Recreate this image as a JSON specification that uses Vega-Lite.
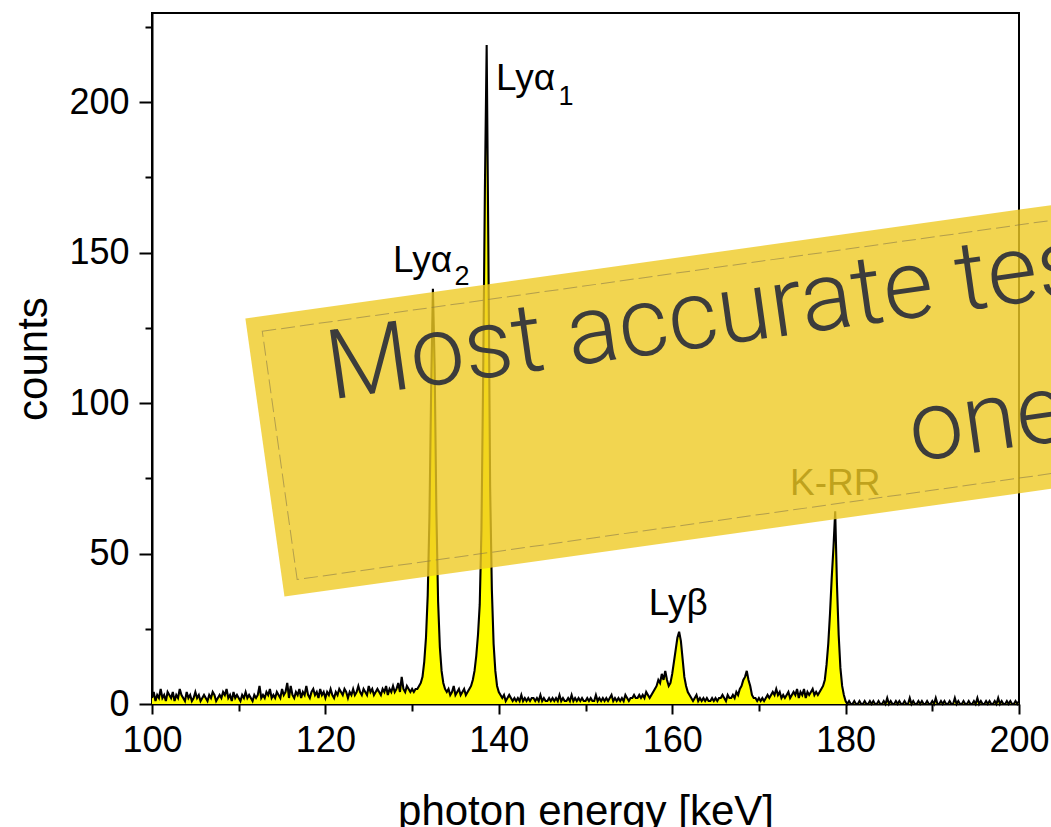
{
  "$schema": "https://vega.github.io/schema/vega-lite/v6.json",
  "autosize": "none",
  "width": 867,
  "height": 691,
  "padding": {"left": 152, "top": 13, "right": 32, "bottom": 123},
  "background": "white",
  "config": {
    "view": {"stroke": "black", "strokeWidth": 2},
    "font": "Liberation Sans Narrow, Arial Narrow, Liberation Sans, sans-serif"
  },
  "datasets": {
    "spectrum": [
      {"e":100,"c":2},{"e":100.2,"c":4},{"e":100.4,"c":1},{"e":100.6,"c":3},{"e":100.8,"c":2},{"e":101,"c":5},{"e":101.2,"c":2},{"e":101.4,"c":3},{"e":101.6,"c":1},{"e":101.8,"c":4},
      {"e":102,"c":3},{"e":102.2,"c":2},{"e":102.4,"c":4},{"e":102.6,"c":1},{"e":102.8,"c":3},{"e":103,"c":2},{"e":103.2,"c":5},{"e":103.4,"c":3},{"e":103.6,"c":2},{"e":103.8,"c":1},
      {"e":104,"c":4},{"e":104.2,"c":2},{"e":104.4,"c":3},{"e":104.6,"c":1},{"e":104.8,"c":2},{"e":105,"c":4},{"e":105.2,"c":2},{"e":105.4,"c":3},{"e":105.6,"c":1},{"e":105.8,"c":2},
      {"e":106,"c":3},{"e":106.2,"c":2},{"e":106.4,"c":1},{"e":106.6,"c":3},{"e":106.8,"c":2},{"e":107,"c":4},{"e":107.2,"c":3},{"e":107.4,"c":1},{"e":107.6,"c":2},{"e":107.8,"c":3},
      {"e":108,"c":2},{"e":108.2,"c":4},{"e":108.4,"c":3},{"e":108.6,"c":5},{"e":108.8,"c":2},{"e":109,"c":3},{"e":109.2,"c":1},{"e":109.4,"c":4},{"e":109.6,"c":2},{"e":109.8,"c":3},
      {"e":110,"c":2},{"e":110.2,"c":1},{"e":110.4,"c":3},{"e":110.6,"c":2},{"e":110.8,"c":4},{"e":111,"c":2},{"e":111.2,"c":3},{"e":111.4,"c":2},{"e":111.6,"c":1},{"e":111.8,"c":3},
      {"e":112,"c":2},{"e":112.2,"c":3},{"e":112.4,"c":6},{"e":112.6,"c":2},{"e":112.8,"c":3},{"e":113,"c":2},{"e":113.2,"c":4},{"e":113.4,"c":3},{"e":113.6,"c":5},{"e":113.8,"c":2},
      {"e":114,"c":3},{"e":114.2,"c":2},{"e":114.4,"c":4},{"e":114.6,"c":3},{"e":114.8,"c":2},{"e":115,"c":5},{"e":115.2,"c":3},{"e":115.4,"c":4},{"e":115.6,"c":7},{"e":115.8,"c":2},
      {"e":116,"c":6},{"e":116.2,"c":3},{"e":116.4,"c":2},{"e":116.6,"c":4},{"e":116.8,"c":3},{"e":117,"c":5},{"e":117.2,"c":2},{"e":117.4,"c":4},{"e":117.6,"c":3},{"e":117.8,"c":6},
      {"e":118,"c":3},{"e":118.2,"c":2},{"e":118.4,"c":4},{"e":118.6,"c":5},{"e":118.8,"c":3},{"e":119,"c":4},{"e":119.2,"c":2},{"e":119.4,"c":5},{"e":119.6,"c":3},{"e":119.8,"c":4},
      {"e":120,"c":2},{"e":120.2,"c":4},{"e":120.4,"c":3},{"e":120.6,"c":5},{"e":120.8,"c":3},{"e":121,"c":2},{"e":121.2,"c":4},{"e":121.4,"c":3},{"e":121.6,"c":5},{"e":121.8,"c":4},
      {"e":122,"c":3},{"e":122.2,"c":5},{"e":122.4,"c":4},{"e":122.6,"c":2},{"e":122.8,"c":4},{"e":123,"c":3},{"e":123.2,"c":5},{"e":123.4,"c":3},{"e":123.6,"c":4},{"e":123.8,"c":6},
      {"e":124,"c":4},{"e":124.2,"c":3},{"e":124.4,"c":5},{"e":124.6,"c":4},{"e":124.8,"c":3},{"e":125,"c":6},{"e":125.2,"c":4},{"e":125.4,"c":5},{"e":125.6,"c":3},{"e":125.8,"c":4},
      {"e":126,"c":5},{"e":126.2,"c":4},{"e":126.4,"c":3},{"e":126.6,"c":5},{"e":126.8,"c":4},{"e":127,"c":6},{"e":127.2,"c":3},{"e":127.4,"c":5},{"e":127.6,"c":4},{"e":127.8,"c":6},
      {"e":128,"c":4},{"e":128.2,"c":5},{"e":128.4,"c":7},{"e":128.6,"c":4},{"e":128.8,"c":9},{"e":129,"c":5},{"e":129.2,"c":4},{"e":129.4,"c":6},{"e":129.6,"c":5},{"e":129.8,"c":4},
      {"e":130,"c":5},{"e":130.2,"c":4},{"e":130.4,"c":5},
      {"e":130.6,"c":5},{"e":130.8,"c":6},{"e":131,"c":7},{"e":131.2,"c":9},{"e":131.4,"c":14},{"e":131.6,"c":22},{"e":131.8,"c":36},{"e":132,"c":62},{"e":132.2,"c":105},{"e":132.4,"c":138},{"e":132.6,"c":112},{"e":132.8,"c":64},{"e":133,"c":34},{"e":133.2,"c":19},{"e":133.4,"c":11},{"e":133.6,"c":7},{"e":133.8,"c":5},
      {"e":134,"c":4},{"e":134.2,"c":5},{"e":134.4,"c":3},{"e":134.6,"c":4},{"e":134.8,"c":6},{"e":135,"c":3},{"e":135.2,"c":4},{"e":135.4,"c":5},{"e":135.6,"c":3},{"e":135.8,"c":4},
      {"e":136,"c":5},{"e":136.2,"c":3},{"e":136.4,"c":4},
      {"e":136.6,"c":5},{"e":136.8,"c":6},{"e":137,"c":8},{"e":137.2,"c":11},{"e":137.4,"c":16},{"e":137.6,"c":23},{"e":137.8,"c":33},{"e":138,"c":58},{"e":138.2,"c":110},{"e":138.4,"c":172},{"e":138.6,"c":219},{"e":138.8,"c":150},{"e":139,"c":72},{"e":139.2,"c":38},{"e":139.4,"c":20},{"e":139.6,"c":11},{"e":139.8,"c":6},{"e":140,"c":4},
      {"e":140.2,"c":3},{"e":140.4,"c":2},{"e":140.6,"c":3},{"e":140.8,"c":1},{"e":141,"c":2},{"e":141.2,"c":3},{"e":141.4,"c":2},{"e":141.6,"c":1},{"e":141.8,"c":2},
      {"e":142,"c":1},{"e":142.2,"c":2},{"e":142.4,"c":1},{"e":142.6,"c":3},{"e":142.8,"c":1},{"e":143,"c":2},{"e":143.2,"c":1},{"e":143.4,"c":2},{"e":143.6,"c":1},{"e":143.8,"c":2},
      {"e":144,"c":2},{"e":144.2,"c":1},{"e":144.4,"c":2},{"e":144.6,"c":1},{"e":144.8,"c":3},{"e":145,"c":1},{"e":145.2,"c":2},{"e":145.4,"c":1},{"e":145.6,"c":1},{"e":145.8,"c":2},
      {"e":146,"c":1},{"e":146.2,"c":2},{"e":146.4,"c":1},{"e":146.6,"c":2},{"e":146.8,"c":1},{"e":147,"c":3},{"e":147.2,"c":1},{"e":147.4,"c":2},{"e":147.6,"c":1},{"e":147.8,"c":1},
      {"e":148,"c":2},{"e":148.2,"c":1},{"e":148.4,"c":3},{"e":148.6,"c":1},{"e":148.8,"c":2},{"e":149,"c":1},{"e":149.2,"c":2},{"e":149.4,"c":1},{"e":149.6,"c":2},{"e":149.8,"c":1},
      {"e":150,"c":1},{"e":150.2,"c":2},{"e":150.4,"c":1},{"e":150.6,"c":2},{"e":150.8,"c":1},{"e":151,"c":1},{"e":151.2,"c":3},{"e":151.4,"c":1},{"e":151.6,"c":2},{"e":151.8,"c":1},
      {"e":152,"c":2},{"e":152.2,"c":1},{"e":152.4,"c":2},{"e":152.6,"c":1},{"e":152.8,"c":2},{"e":153,"c":3},{"e":153.2,"c":1},{"e":153.4,"c":2},{"e":153.6,"c":1},{"e":153.8,"c":2},
      {"e":154,"c":1},{"e":154.2,"c":2},{"e":154.4,"c":1},{"e":154.6,"c":3},{"e":154.8,"c":2},{"e":155,"c":1},{"e":155.2,"c":2},{"e":155.4,"c":2},{"e":155.6,"c":3},{"e":155.8,"c":2},
      {"e":156,"c":2},{"e":156.2,"c":3},{"e":156.4,"c":2},{"e":156.6,"c":3},{"e":156.8,"c":2},{"e":157,"c":4},{"e":157.2,"c":3},{"e":157.4,"c":2},
      {"e":157.6,"c":3},{"e":157.8,"c":4},{"e":158,"c":5},{"e":158.2,"c":6},{"e":158.4,"c":8},{"e":158.6,"c":7},{"e":158.8,"c":10},{"e":159,"c":8},{"e":159.2,"c":11},{"e":159.4,"c":8},{"e":159.6,"c":6},{"e":159.8,"c":7},{"e":160,"c":10},{"e":160.2,"c":14},{"e":160.4,"c":18},{"e":160.6,"c":22},{"e":160.8,"c":24},{"e":161,"c":21},{"e":161.2,"c":15},{"e":161.4,"c":9},{"e":161.6,"c":6},{"e":161.8,"c":4},{"e":162,"c":3},
      {"e":162.2,"c":2},{"e":162.4,"c":1},{"e":162.6,"c":2},{"e":162.8,"c":3},{"e":163,"c":1},{"e":163.2,"c":2},{"e":163.4,"c":1},{"e":163.6,"c":2},{"e":163.8,"c":1},
      {"e":164,"c":2},{"e":164.2,"c":1},{"e":164.4,"c":1},{"e":164.6,"c":2},{"e":164.8,"c":1},{"e":165,"c":2},{"e":165.2,"c":1},{"e":165.4,"c":2},{"e":165.6,"c":2},{"e":165.8,"c":3},
      {"e":166,"c":2},{"e":166.2,"c":1},{"e":166.4,"c":3},{"e":166.6,"c":2},{"e":166.8,"c":2},{"e":167,"c":3},{"e":167.2,"c":2},{"e":167.4,"c":4},
      {"e":167.6,"c":3},{"e":167.8,"c":5},{"e":168,"c":6},{"e":168.2,"c":8},{"e":168.4,"c":9},{"e":168.6,"c":11},{"e":168.8,"c":8},{"e":169,"c":6},{"e":169.2,"c":3},{"e":169.4,"c":2},
      {"e":169.6,"c":2},{"e":169.8,"c":1},
      {"e":170,"c":2},{"e":170.2,"c":1},{"e":170.4,"c":2},{"e":170.6,"c":1},{"e":170.8,"c":2},{"e":171,"c":3},{"e":171.2,"c":2},{"e":171.4,"c":3},{"e":171.6,"c":4},{"e":171.8,"c":3},
      {"e":172,"c":5},{"e":172.2,"c":3},{"e":172.4,"c":4},{"e":172.6,"c":2},{"e":172.8,"c":3},{"e":173,"c":2},{"e":173.2,"c":3},{"e":173.4,"c":4},{"e":173.6,"c":2},{"e":173.8,"c":3},
      {"e":174,"c":4},{"e":174.2,"c":3},{"e":174.4,"c":5},{"e":174.6,"c":2},{"e":174.8,"c":4},{"e":175,"c":3},{"e":175.2,"c":5},{"e":175.4,"c":2},{"e":175.6,"c":4},{"e":175.8,"c":3},
      {"e":176,"c":4},{"e":176.2,"c":5},{"e":176.4,"c":3},{"e":176.6,"c":4},{"e":176.8,"c":3},
      {"e":177,"c":4},{"e":177.2,"c":5},{"e":177.4,"c":6},{"e":177.6,"c":8},{"e":177.8,"c":13},{"e":178,"c":20},{"e":178.2,"c":30},{"e":178.4,"c":42},{"e":178.6,"c":52},{"e":178.8,"c":64},{"e":179,"c":40},{"e":179.2,"c":23},{"e":179.4,"c":12},{"e":179.6,"c":6},{"e":179.8,"c":3},
      {"e":180,"c":1},{"e":180.2,"c":0},{"e":180.4,"c":1},{"e":180.6,"c":0},{"e":180.8,"c":0},{"e":181,"c":1},{"e":181.2,"c":0},{"e":181.4,"c":0},{"e":181.6,"c":1},{"e":181.8,"c":0},
      {"e":182,"c":0},{"e":182.2,"c":1},{"e":182.4,"c":0},{"e":182.6,"c":0},{"e":182.8,"c":1},{"e":183,"c":0},{"e":183.2,"c":1},{"e":183.4,"c":0},{"e":183.6,"c":0},{"e":183.8,"c":1},
      {"e":184,"c":0},{"e":184.2,"c":0},{"e":184.4,"c":1},{"e":184.6,"c":0},{"e":184.8,"c":2},{"e":185,"c":0},{"e":185.2,"c":1},{"e":185.4,"c":0},{"e":185.6,"c":0},{"e":185.8,"c":1},
      {"e":186,"c":0},{"e":186.2,"c":1},{"e":186.4,"c":0},{"e":186.6,"c":0},{"e":186.8,"c":1},{"e":187,"c":0},{"e":187.2,"c":0},{"e":187.4,"c":2},{"e":187.6,"c":0},{"e":187.8,"c":1},
      {"e":188,"c":0},{"e":188.2,"c":0},{"e":188.4,"c":1},{"e":188.6,"c":0},{"e":188.8,"c":1},{"e":189,"c":0},{"e":189.2,"c":0},{"e":189.4,"c":1},{"e":189.6,"c":0},{"e":189.8,"c":0},
      {"e":190,"c":1},{"e":190.2,"c":0},{"e":190.4,"c":2},{"e":190.6,"c":0},{"e":190.8,"c":0},{"e":191,"c":1},{"e":191.2,"c":0},{"e":191.4,"c":1},{"e":191.6,"c":0},{"e":191.8,"c":0},
      {"e":192,"c":1},{"e":192.2,"c":0},{"e":192.4,"c":0},{"e":192.6,"c":2},{"e":192.8,"c":0},{"e":193,"c":1},{"e":193.2,"c":0},{"e":193.4,"c":0},{"e":193.6,"c":1},{"e":193.8,"c":0},
      {"e":194,"c":0},{"e":194.2,"c":1},{"e":194.4,"c":0},{"e":194.6,"c":0},{"e":194.8,"c":1},{"e":195,"c":0},{"e":195.2,"c":2},{"e":195.4,"c":0},{"e":195.6,"c":1},{"e":195.8,"c":0},
      {"e":196,"c":0},{"e":196.2,"c":1},{"e":196.4,"c":0},{"e":196.6,"c":1},{"e":196.8,"c":0},{"e":197,"c":0},{"e":197.2,"c":1},{"e":197.4,"c":0},{"e":197.6,"c":2},{"e":197.8,"c":0},
      {"e":198,"c":1},{"e":198.2,"c":0},{"e":198.4,"c":0},{"e":198.6,"c":1},{"e":198.8,"c":0},{"e":199,"c":1},{"e":199.2,"c":0},{"e":199.4,"c":0},{"e":199.6,"c":1},{"e":199.8,"c":0},{"e":200,"c":1}
    ],
    "labels": [
      {"t":"Lyα","e":139.68,"c":204},
      {"t":"Lyα","e":127.8,"c":143.5},
      {"t":"Lyβ","e":157.3,"c":29.6},
      {"t":"K-RR","e":173.6,"c":69.4}
    ],
    "subs": [
      {"t":"1","e":146.9,"c":199},
      {"t":"2","e":134.9,"c":139.2}
    ],
    "banner": [
      {"e":178.7,"c":108.5}
    ],
    "bannerText": [
      {"t":"Most accurate test","e":120.65,"c":101.2},
      {"t":"one","e":187.8,"c":80.6}
    ]
  },
  "encoding": {
    "x": {
      "field": "e", "type": "quantitative",
      "scale": {"domain": [100, 200], "nice": false, "zero": false},
      "axis": {
        "title": "photon energy [keV]",
        "values": [100, 110, 120, 130, 140, 150, 160, 170, 180, 190, 200],
        "labelExpr": "datum.value % 20 === 0 ? datum.label : ''",
        "tickSize": {"condition": {"test": "datum.value % 20 === 0", "value": 10}, "value": 7},
        "grid": false,
        "domainColor": "black", "domainWidth": 2,
        "tickColor": "black", "tickWidth": 2,
        "labelColor": "black", "labelFontSize": 36, "labelPadding": 9,
        "labelFlush": false,
        "titleColor": "black", "titleFontSize": 42, "titleFontWeight": "normal", "titlePadding": 33
      }
    },
    "y": {
      "field": "c", "type": "quantitative",
      "scale": {"domain": [0, 229.6], "nice": false},
      "axis": {
        "title": "counts",
        "values": [0, 25, 50, 75, 100, 125, 150, 175, 200, 225],
        "labelExpr": "datum.value % 50 === 0 ? datum.label : ''",
        "tickSize": {"condition": {"test": "datum.value % 50 === 0", "value": 13}, "value": 7},
        "grid": false,
        "domainColor": "black", "domainWidth": 2,
        "tickColor": "black", "tickWidth": 2,
        "labelColor": "black", "labelFontSize": 36, "labelPadding": 10,
        "labelFlush": false,
        "titleColor": "black", "titleFontSize": 42, "titleFontWeight": "normal", "titlePadding": 13
      }
    }
  },
  "layer": [
    {
      "data": {"name": "spectrum"},
      "mark": {"type": "area", "color": "#ffff00", "interpolate": "linear"}
    },
    {
      "data": {"name": "spectrum"},
      "mark": {"type": "line", "color": "black", "strokeWidth": 2.1, "interpolate": "linear"}
    },
    {
      "data": {"name": "labels"},
      "mark": {"type": "text", "align": "left", "baseline": "alphabetic", "fontSize": 37, "color": "black"},
      "encoding": {"text": {"field": "t"}}
    },
    {
      "data": {"name": "subs"},
      "mark": {"type": "text", "align": "left", "baseline": "alphabetic", "fontSize": 27, "color": "black"},
      "encoding": {"text": {"field": "t"}}
    },
    {
      "data": {"name": "banner"},
      "mark": {
        "type": "point", "filled": true,
        "shape": "M-1,-0.2443L1,-0.2443L1,0.2443L-1,0.2443Z",
        "size": 1322500, "angle": -8,
        "color": "#EFCA24", "opacity": 0.8, "strokeWidth": 0
      }
    },
    {
      "data": {"name": "banner"},
      "mark": {
        "type": "point", "filled": false,
        "shape": "M-0.974,-0.218L0.974,-0.218L0.974,0.218L-0.974,0.218Z",
        "size": 1322500, "angle": -8,
        "stroke": "#8a7a4a", "strokeWidth": 1, "strokeDash": [14, 5], "opacity": 0.6
      }
    },
    {
      "data": {"name": "bannerText"},
      "mark": {
        "type": "text", "align": "left", "baseline": "alphabetic", "angle": -8,
        "font": "Roboto", "fontWeight": 300, "fontSize": 97, "color": "#3c3c3c"
      },
      "encoding": {"text": {"field": "t"}}
    }
  ]
}
